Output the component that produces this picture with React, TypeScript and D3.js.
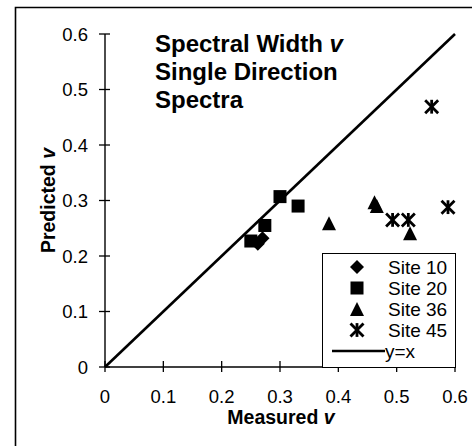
import React from "react";
import * as d3 from "d3";

const site10: [number, number][] = [[0.262, 0.222], [0.27, 0.232]];
const site20: [number, number][] = [[0.3, 0.307], [0.331, 0.29], [0.274, 0.255], [0.25, 0.227]];
const site36: [number, number][] = [[0.384, 0.259], [0.462, 0.297], [0.466, 0.29], [0.523, 0.241]];
const site45: [number, number][] = [[0.56, 0.469], [0.588, 0.288], [0.493, 0.265], [0.52, 0.265]];
const xTicks = [0, 0.1, 0.2, 0.3, 0.4, 0.5, 0.6];
const yTicks = [0, 0.1, 0.2, 0.3, 0.4, 0.5, 0.6];
const titleLines = ["Spectral Width ", "Single Direction", "Spectra"];
const legendItems = ["Site 10", "Site 20", "Site 36", "Site 45"];

const FONT = "'Liberation Sans', Arial, sans-serif";

type Shape = "diamond" | "square" | "triangle" | "star";

function Marker({ shape, x, y }: { shape: Shape; x: number; y: number }) {
  if (shape === "diamond") {
    const s = 7;
    return <path d={`M${x},${y - s}L${x + s},${y}L${x},${y + s}L${x - s},${y}Z`} fill="#000" />;
  }
  if (shape === "square") {
    const s = 6.5;
    return <rect x={x - s} y={y - s} width={2 * s} height={2 * s} fill="#000" />;
  }
  if (shape === "triangle") {
    const s = 7;
    return <path d={`M${x},${y - s}L${x + s},${y + s}L${x - s},${y + s}Z`} fill="#000" />;
  }
  const s = 5.5;
  return (
    <g stroke="#000" strokeWidth={2.8} strokeLinecap="square">
      <line x1={x - s} y1={y - s} x2={x + s} y2={y + s} />
      <line x1={x - s} y1={y + s} x2={x + s} y2={y - s} />
      <line x1={x} y1={y - s} x2={x} y2={y + s} />
    </g>
  );
}

export default function App() {
  const W = 472, H = 446;
  const x = d3.scaleLinear().domain([0, 0.6]).range([105, 455]);
  const y = d3.scaleLinear().domain([0, 0.6]).range([367, 34]);
  const fmt = (v: number) => (v === 0 ? "0" : d3.format(".1f")(v));
  const series: { shape: Shape; data: [number, number][] }[] = [
    { shape: "diamond", data: site10 },
    { shape: "square", data: site20 },
    { shape: "triangle", data: site36 },
    { shape: "star", data: site45 },
  ];
  const diag = d3.line<[number, number]>().x(d => x(d[0])).y(d => y(d[1]))([[0, 0], [0.6, 0.6]]) || "";
  const lx = 322, ly = 253, lw = 133, lh = 114;
  const rowY = (i: number) => 267 + i * 21;
  return (
    <svg width={W} height={H} style={{ position: "absolute", left: 0, top: 0, background: "#fff" }} fontFamily={FONT}>
      <rect x={0} y={0} width={W} height={H} fill="#fff" />
      <path d={`M15.5,${H}V7.5H${W}`} fill="none" stroke="#000" strokeWidth={1.6} />
      {titleLines.map((t, i) => (
        <text key={i} x={155} y={52 + i * 28} fontSize={24} fontWeight="bold" fill="#000">
          {t}
          {i === 0 ? <tspan fontStyle="italic">v</tspan> : null}
        </text>
      ))}
      <path d={diag} stroke="#000" strokeWidth={2.6} fill="none" />
      <line x1={x(0)} y1={y(0)} x2={x(0)} y2={y(0.6)} stroke="#000" strokeWidth={1.4} />
      <line x1={x(0)} y1={y(0)} x2={x(0.6)} y2={y(0)} stroke="#000" strokeWidth={1.4} />
      {yTicks.map(v => (
        <g key={"y" + v}>
          <line x1={x(0) - 6} x2={x(0) + 5} y1={y(v)} y2={y(v)} stroke="#000" strokeWidth={1.3} />
          <text x={88} y={y(v) + 6.5} textAnchor="end" fontSize={18.5} fill="#000">{fmt(v)}</text>
        </g>
      ))}
      {xTicks.map(v => (
        <g key={"x" + v}>
          <line x1={x(v)} x2={x(v)} y1={y(0) - 6} y2={y(0) + 5} stroke="#000" strokeWidth={1.3} />
          <text x={x(v)} y={403} textAnchor="middle" fontSize={18.5} fill="#000">{fmt(v)}</text>
        </g>
      ))}
      <text x={281} y={424} textAnchor="middle" fontSize={19.5} fontWeight="bold" fill="#000">
        Measured <tspan fontStyle="italic">v</tspan>
      </text>
      <text transform={`translate(55,${(y(0) + y(0.6)) / 2}) rotate(-90)`} textAnchor="middle" fontSize={19.5} fontWeight="bold" fill="#000">
        Predicted <tspan fontStyle="italic">v</tspan>
      </text>
      {series.map(s => s.data.map((d, i) => <Marker key={s.shape + i} shape={s.shape} x={x(d[0])} y={y(d[1])} />))}
      <rect x={lx + 0.5} y={ly + 0.5} width={lw} height={lh} fill="#fff" stroke="#000" strokeWidth={1} />
      {legendItems.map((t, i) => (
        <g key={t}>
          <Marker shape={series[i].shape} x={357} y={rowY(i)} />
          <text x={388} y={rowY(i) + 7} fontSize={19} fill="#000">{t}</text>
        </g>
      ))}
      <line x1={332} x2={385} y1={rowY(4)} y2={rowY(4)} stroke="#000" strokeWidth={2.6} />
      <text x={385} y={rowY(4) + 7} fontSize={19} fill="#000">y=x</text>
    </svg>
  );
}
